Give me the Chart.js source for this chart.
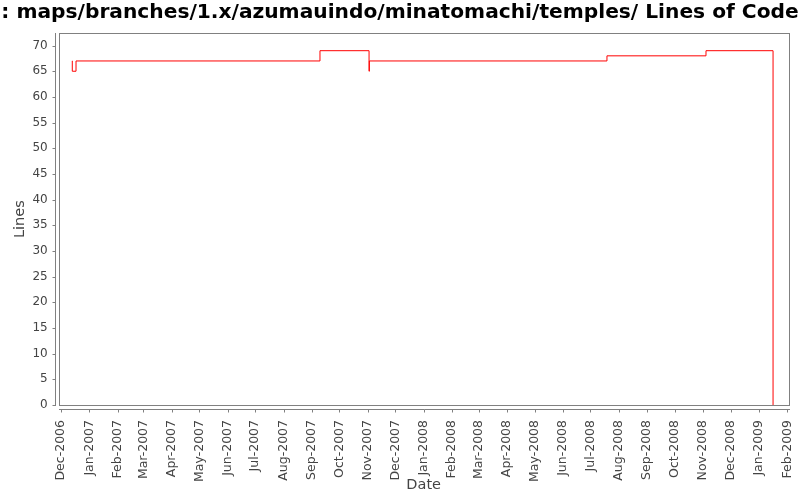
<!DOCTYPE html>
<html>
<head>
<meta charset="utf-8">
<script src="https://cdn.jsdelivr.net/npm/chart.js@4/dist/chart.umd.min.js"></script>
<style>
  html, body { margin: 0; padding: 0; background: #fff; }
  #wrap { width: 800px; height: 500px; }
</style>
</head>
<body>
<div id="wrap"><canvas id="locChart" width="800" height="500"></canvas></div>
<script>
// commit dates and line counts
const commitDates = ['2006-12-13T00:00', '2006-12-13T08:00', '2006-12-17T10:00', '2007-09-09T18:00',
    '2007-11-02T08:00', '2007-11-02T16:00', '2008-07-19T02:00', '2008-11-04T05:00', '2009-01-16T10:00'];
const lineCounts = [67, 65, 67, 69, 65, 67, 68, 69, 0];

const monthTicks = ['2006-12-01', '2007-01-01', '2007-02-01', '2007-03-01', '2007-04-01', '2007-05-01',
    '2007-06-01', '2007-07-01', '2007-08-01', '2007-09-01', '2007-10-01', '2007-11-01', '2007-12-01',
    '2008-01-01', '2008-02-01', '2008-03-01', '2008-04-01', '2008-05-01', '2008-06-01', '2008-07-01',
    '2008-08-01', '2008-09-01', '2008-10-01', '2008-11-01', '2008-12-01', '2009-01-01', '2009-02-01'];
const monthLabels = ['Dec-2006', 'Jan-2007', 'Feb-2007', 'Mar-2007', 'Apr-2007', 'May-2007',
    'Jun-2007', 'Jul-2007', 'Aug-2007', 'Sep-2007', 'Oct-2007', 'Nov-2007', 'Dec-2007',
    'Jan-2008', 'Feb-2008', 'Mar-2008', 'Apr-2008', 'May-2008', 'Jun-2008', 'Jul-2008',
    'Aug-2008', 'Sep-2008', 'Oct-2008', 'Nov-2008', 'Dec-2008', 'Jan-2009', 'Feb-2009'];
const lineTicks = [0, 5, 10, 15, 20, 25, 30, 35, 40, 45, 50, 55, 60, 65, 70];

const toMs = s => Date.parse(s.length > 10 ? s + ':00Z' : s + 'T00:00:00Z');

const AXIS_GREY = '#808080';
const TEXT_GREY = '#444444';

// JFreeChart style: plot outline plus axes drawn a few pixels away from it
const plotFrame = {
    id: 'plotFrame',
    afterDraw(chart) {
        const { ctx, chartArea: a, scales } = chart;
        const gap = 4, tick = 3;
        ctx.save();
        ctx.strokeStyle = AXIS_GREY;
        ctx.lineWidth = 1;
        ctx.strokeRect(Math.round(a.left) + 0.5, Math.round(a.top) + 0.5,
            Math.round(a.right - a.left), Math.round(a.bottom - a.top));

        const ax = Math.round(a.left - gap) + 0.5;
        ctx.beginPath();
        ctx.moveTo(ax, Math.round(a.top));
        ctx.lineTo(ax, Math.round(a.bottom) + 1);
        scales.y.ticks.forEach(t => {
            const py = Math.round(scales.y.getPixelForValue(t.value)) + 0.5;
            ctx.moveTo(ax - tick, py);
            ctx.lineTo(ax, py);
        });
        const ay = Math.round(a.bottom + gap) + 0.5;
        ctx.moveTo(Math.round(a.left), ay);
        ctx.lineTo(Math.round(a.right) + 1, ay);
        scales.x.ticks.forEach(t => {
            const px = Math.round(scales.x.getPixelForValue(t.value)) + 0.5;
            ctx.moveTo(px, ay);
            ctx.lineTo(px, ay + tick);
        });
        ctx.stroke();
        ctx.restore();
    }
};

const ctx = document.getElementById('locChart').getContext('2d');
new Chart(ctx, {
    type: 'line',
    data: {
        datasets: [{
            label: 'Lines of Code',
            data: commitDates.map((d, i) => ({ x: toMs(d), y: lineCounts[i] })),
            borderColor: '#ff0000',
            borderWidth: 1,
            pointRadius: 0,
            stepped: 'before',
            fill: false
        }]
    },
    options: {
        responsive: false,
        animation: false,
        layout: { padding: 0 },
        plugins: {
            legend: { display: false },
            tooltip: { enabled: false },
            title: {
                display: true,
                text: ': maps/branches/1.x/azumauindo/minatomachi/temples/ Lines of Code',
                color: '#000',
                font: { family: 'DejaVu Sans', size: 20.2, weight: 'bold', lineHeight: 1.2 },
                padding: { top: 1, bottom: 8 }
            }
        },
        scales: {
            x: {
                type: 'linear',
                min: Date.UTC(2006, 10, 28, 12),
                max: Date.UTC(2009, 1, 2, 12),
                afterBuildTicks: s => { s.ticks = monthTicks.map(d => ({ value: toMs(d) })); },
                afterFit: s => {
                    s.height = 95;
                    // keep the plot box where the reference has it
                    s.paddingLeft = 0;
                    s.paddingRight = 11.3;
                },
                grid: { display: false, drawTicks: false },
                border: { display: false },
                ticks: {
                    autoSkip: false,
                    minRotation: 90,
                    maxRotation: 90,
                    padding: 15,
                    color: TEXT_GREY,
                    font: { family: 'DejaVu Sans', size: 12.5 },
                    callback: (v, i) => monthLabels[i]
                },
                title: {
                    display: true,
                    text: 'Date',
                    color: TEXT_GREY,
                    font: { family: 'DejaVu Sans', size: 14.5 },
                    padding: { top: 0, bottom: 6 }
                }
            },
            y: {
                min: 0,
                max: 72.4,
                afterBuildTicks: s => { s.ticks = lineTicks.map(v => ({ value: v })); },
                afterFit: s => { s.width = 58.7; },
                grid: { display: false, drawTicks: false },
                border: { display: false },
                ticks: {
                    padding: 11,
                    color: TEXT_GREY,
                    font: { family: 'DejaVu Sans', size: 12 }
                },
                title: {
                    display: true,
                    text: 'Lines',
                    color: TEXT_GREY,
                    font: { family: 'DejaVu Sans', size: 14.5 },
                    padding: { top: 12, bottom: 0 }
                }
            }
        }
    },
    plugins: [plotFrame]
});
</script>
</body>
</html>
